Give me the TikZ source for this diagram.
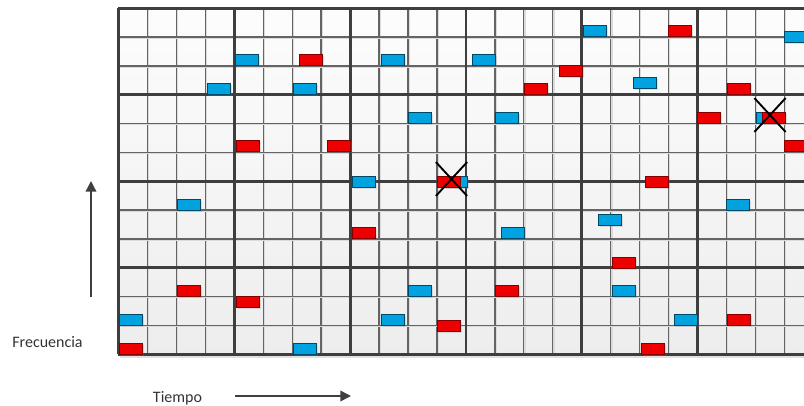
\documentclass[tikz,border=0pt]{standalone}
\usepackage{fontspec}
\setmainfont{Carlito}
\usepackage{tikz}
\usetikzlibrary{arrows.meta,shapes.misc,shadows}

\definecolor{cblue}{RGB}{0,163,224}
\definecolor{cred}{RGB}{238,0,0}
\definecolor{gthin}{RGB}{100,100,100}
\definecolor{gthick}{RGB}{62,62,62}
\definecolor{arrgray}{RGB}{64,64,64}

\begin{document}
\begin{tikzpicture}[x=0.75pt, y=-0.75pt,
    slot/.style={rectangle, anchor=north west, inner sep=0pt, minimum width=17.4pt, minimum height=8.4pt, line width=0.7pt,
        drop shadow={shadow xshift=1.3pt, shadow yshift=-1.3pt, opacity=0.22}},
    bslot/.style={slot, draw=cblue!45!black, fill=cblue},
    rslot/.style={slot, draw=cred!55!black, fill=cred},
    hit/.style={cross out, draw=black, line width=1.4pt, minimum width=22pt, minimum height=24pt, inner sep=0pt},
    thinln/.style={draw=gthin, line width=1pt},
    thinsh/.style={draw=black!14, line width=1pt},
    thickln/.style={draw=gthick, line width=2.1pt},
    arr/.style={-{Triangle[length=8pt, width=8pt]}, line width=1.1pt, draw=arrgray},
    lbl/.style={font=\fontsize{12}{14}\selectfont, text=black!80}
]
\useasboundingbox (0,0) rectangle (804,405);

\begin{scope}
\clip (100,0) rectangle (804,370);
% cells
\fill[black!12] (120,355) rectangle (814,358);
\fill[top color=black!1, bottom color=black!7] (118.5,8.3) rectangle (813,354.3);
\foreach \j in {1,2,3,5,6,7,9,10,11,13,14,15,17,18,19,21,22,23} {
    \draw[thinsh] ({119.7+28.95*\j},8.3) -- ({119.7+28.95*\j},354.3);
    \draw[thinln] ({118.5+28.95*\j},8.3) -- ({118.5+28.95*\j},354.3);
}
\foreach \k in {1,2,4,5,7,8,10,11} {
    \draw[thinsh] (118.5,{9.5+28.83*\k}) -- (813,{9.5+28.83*\k});
    \draw[thinln] (118.5,{8.3+28.83*\k}) -- (813,{8.3+28.83*\k});
}
\foreach \j in {0,4,8,12,16,20,24}
    \draw[thickln] ({118.5+28.95*\j},8.3) -- ({118.5+28.95*\j},354.3);
\foreach \k in {0,3,6,9,12}
    \draw[thickln] (117.5,{8.3+28.83*\k}) -- (813,{8.3+28.83*\k});

% time slots
\node[bslot] (bl1) at (235,54) {};
\node[rslot] (rd1) at (299,54) {};
\node[bslot] (bl2) at (207,83) {};
\node[bslot] (bl3) at (293,83) {};
\node[bslot] (bl4) at (583,25) {};
\node[bslot] (bl5) at (381,54) {};
\node[bslot] (bl6) at (472,54) {};
\node[rslot] (rd2) at (559,65) {};
\node[rslot] (rd3) at (524,83) {};
\node[bslot] (bl7) at (408,112) {};
\node[bslot] (bl8) at (495,112) {};
\node[rslot] (rd4) at (668,25) {};
\node[bslot] (bl9) at (784,31) {};
\node[bslot] (bl10) at (633,77) {};
\node[rslot] (rd5) at (727,83) {};
\node[rslot] (rd6) at (697,112) {};
\node[bslot] (bl11) at (756,112) {};
\node[rslot] (rd7) at (762,112) {};
\node[rslot] (rd8) at (236,140) {};
\node[rslot] (rd9) at (327,140) {};
\node[bslot] (bl12) at (352,176) {};
\node[bslot] (bl13) at (177,199) {};
\node[rslot] (rd10) at (352,227) {};
\node[bslot] (bl14) at (444,176) {};
\node[rslot] (rd11) at (437,176) {};
\node[bslot] (bl15) at (501,227) {};
\node[rslot] (rd12) at (784,140) {};
\node[rslot] (rd13) at (645,176) {};
\node[bslot] (bl16) at (726,199) {};
\node[bslot] (bl17) at (598,214) {};
\node[rslot] (rd14) at (177,285) {};
\node[rslot] (rd15) at (236,296) {};
\node[bslot] (bl18) at (118.5,314) {};
\node[rslot] (rd16) at (118.5,343) {};
\node[bslot] (bl19) at (293,343) {};
\node[bslot] (bl20) at (408,285) {};
\node[rslot] (rd17) at (495,285) {};
\node[bslot] (bl21) at (381,314) {};
\node[rslot] (rd18) at (437,320) {};
\node[rslot] (rd19) at (612,257) {};
\node[bslot] (bl22) at (612,285) {};
\node[bslot] (bl23) at (674,314) {};
\node[rslot] (rd20) at (727,314) {};
\node[rslot] (rd21) at (641,343) {};

% collisions
\node[hit] (col1) at (770,115) {};
\node[hit] (col2) at (451.5,179) {};
\end{scope}

% axes
\coordinate (fa) at (91,297);
\coordinate (fb) at (91,181);
\coordinate (ta) at (235,396);
\coordinate (tb) at (351,396);
\draw[arr] (fa) -- (fb);
\draw[arr] (ta) -- (tb);
\node[lbl, anchor=base] (frec) at (47.5,347) {Frecuencia};
\node[lbl, anchor=base] (tiem) at (177.5,402) {Tiempo};
\end{tikzpicture}
\end{document}
